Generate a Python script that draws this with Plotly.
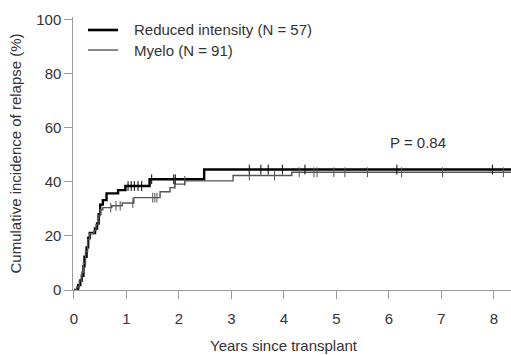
import numpy as np
import plotly.graph_objects as go

# ---- data ----
ri_label = "Reduced intensity (N = 57)"
ri_time = [0, 0.08, 0.12, 0.15, 0.18, 0.20, 0.24, 0.27, 0.30, 0.40, 0.44, 0.47, 0.50, 0.55, 0.62, 0.84, 0.98, 1.44, 2.48, 8.40]
ri_cum  = [0, 1.8, 3.5, 5.3, 8.8, 12.3, 15.8, 19.3, 21.1, 22.8, 24.6, 28.1, 31.6, 33.3, 35.8, 37.0, 38.5, 41.0, 44.6, 44.6]
ri_cens = [1.03, 1.09, 1.15, 1.22, 1.29, 1.48, 1.90, 1.93, 3.34, 3.56, 3.70, 3.97, 4.40, 6.15, 7.97]

my_label = "Myelo (N = 91)"
my_time = [0, 0.05, 0.10, 0.15, 0.18, 0.22, 0.26, 0.30, 0.38, 0.42, 0.46, 0.50, 0.55, 0.72, 0.92, 1.14, 1.64, 1.83, 1.92, 2.11, 3.03, 4.15, 8.40]
my_cum  = [0, 1.1, 3.3, 6.6, 9.9, 14.3, 18.7, 20.9, 22.0, 24.2, 27.5, 29.7, 30.5, 31.2, 32.2, 34.2, 36.4, 37.9, 39.2, 40.4, 42.4, 43.6, 43.6]
my_cens = [0.70, 0.80, 0.88, 1.12, 1.50, 1.54, 1.58, 1.92, 2.11, 3.34, 3.82, 4.29, 4.57, 4.63, 4.95, 5.16, 5.59, 6.24, 7.02, 8.18]

p_text = "P = 0.84"
x_ticks = [0, 1, 2, 3, 4, 5, 6, 7, 8]
y_ticks = [0, 20, 40, 60, 80, 100]

FONT = "Liberation Sans, Arial, sans-serif"
RI_COLOR = "#000000"
MY_COLOR = "#555555"
TXT = "#333333"
AX = "#9a9a9a"


def step_at(times, vals, pts):
    t = np.asarray(times)
    v = np.asarray(vals)
    idx = np.searchsorted(t, np.asarray(pts), side="right") - 1
    return v[idx]


fig = go.Figure()

fig.add_trace(go.Scatter(x=ri_time, y=ri_cum, mode="lines", line_shape="hv",
                         line=dict(color=RI_COLOR, width=2.4), name=ri_label, showlegend=False))
fig.add_trace(go.Scatter(x=my_time, y=my_cum, mode="lines", line_shape="hv",
                         line=dict(color=MY_COLOR, width=1.4), name=my_label, showlegend=False))
fig.add_trace(go.Scatter(x=ri_cens, y=step_at(ri_time, ri_cum, ri_cens), mode="markers",
                         marker=dict(symbol="line-ns-open", size=7, color=RI_COLOR,
                                     line=dict(color=RI_COLOR, width=1)),
                         showlegend=False, hoverinfo="skip"))
fig.add_trace(go.Scatter(x=my_cens, y=step_at(my_time, my_cum, my_cens), mode="markers",
                         marker=dict(symbol="line-ns-open", size=7, color=MY_COLOR,
                                     line=dict(color=MY_COLOR, width=1)),
                         showlegend=False, hoverinfo="skip"))

# legend (drawn manually to match the reference layout)
leg = [(ri_label, RI_COLOR, 2.6, 0.9524), (my_label, MY_COLOR, 1.4, 0.8791)]
for name, col, w, yy in leg:
    fig.add_shape(type="line", xref="paper", yref="paper", x0=0.0537, x1=0.1208, y0=yy, y1=yy,
                  line=dict(color=col, width=w))
    fig.add_annotation(xref="paper", yref="paper", x=0.1521, y=yy, text=name, showarrow=False,
                       xanchor="left", yanchor="middle", font=dict(size=15, color=TXT, family=FONT))

fig.add_annotation(x=6.55, y=54.8, text=p_text, showarrow=False,
                   font=dict(size=15, color=TXT, family=FONT))

# axis titles
fig.add_annotation(xref="paper", yref="paper", x=0.492, y=-0.203, text="Years since transplant",
                   showarrow=False, xanchor="center", yanchor="middle",
                   font=dict(size=15, color=TXT, family=FONT))
fig.add_annotation(xref="paper", yref="paper", x=-0.1096, y=0.5, text="Cumulative incidence of relapse (%)",
                   showarrow=False, textangle=-90, xanchor="center", yanchor="middle",
                   font=dict(size=15, color=TXT, family=FONT))

fig.update_layout(
    width=511, height=355,
    margin=dict(l=64, r=0, t=17, b=65, autoexpand=False),
    plot_bgcolor="white", paper_bgcolor="white",
    font=dict(family=FONT, size=15, color=TXT),
    showlegend=False,
    xaxis=dict(range=[-0.19, 8.324], tickvals=x_ticks, ticks="outside", ticklen=8,
               tickcolor=AX, showline=True, linecolor=AX, linewidth=1,
               showgrid=False, zeroline=False, tickfont=dict(size=15, color=TXT),
               ticklabelstandoff=7, automargin=False),
    yaxis=dict(range=[0, 101.1], tickvals=y_ticks, ticks="outside", ticklen=8,
               tickcolor=AX, showline=True, linecolor=AX, linewidth=1,
               anchor="free", position=0.0186,
               showgrid=False, zeroline=False, tickfont=dict(size=15, color=TXT),
               automargin=False),
)

fig.write_html("out.html", config={"displayModeBar": False},
               post_script="document.body.style.margin='0';document.body.style.overflow='hidden';")
